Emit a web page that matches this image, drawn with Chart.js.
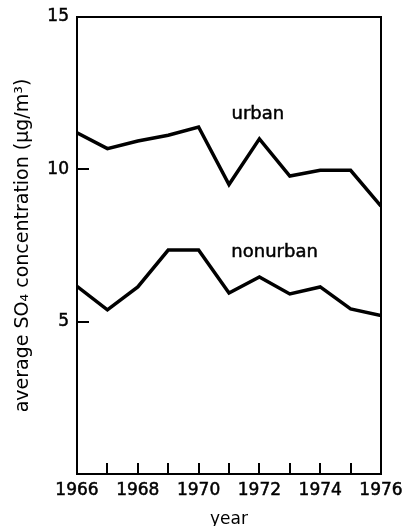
<!DOCTYPE html>
<html><head><meta charset="utf-8">
<script src="https://cdn.jsdelivr.net/npm/chart.js@4/dist/chart.umd.min.js"></script>
<style>html,body{margin:0;padding:0;background:#fff}canvas{display:block}</style>
</head><body>
<canvas id="c" width="404" height="526"></canvas>
<script>
const years = [1966,1967,1968,1969,1970,1971,1972,1973,1974,1975,1976];
const urban = [11.2,10.68,10.93,11.12,11.39,9.5,11.0,9.78,9.97,9.97,8.79];
const nonurban = [6.16,5.39,6.14,7.35,7.35,5.94,6.47,5.91,6.14,5.42,5.2];
const xTickLabels = [1966,1968,1970,1972,1974,1976];
const yTickLabels = [5,10,15];
const seriesNames = ['urban','nonurban'];

const FONT = 'DejaVu Sans';

const boxPlugin = {
  id: 'boxTicks',
  afterDatasetsDraw(chart) {
    const {ctx, chartArea: a, scales: {x, y}} = chart;
    ctx.save();
    ctx.strokeStyle = '#000';
    ctx.lineWidth = 2;
    ctx.beginPath();
    ctx.moveTo(a.left, a.top); ctx.lineTo(a.right, a.top); ctx.lineTo(a.right, a.bottom);
    ctx.stroke();
    // inward tick marks
    ctx.beginPath();
    x.ticks.forEach(t => {
      if (t.value <= x.min || t.value >= x.max) return;
      const px = Math.round(x.getPixelForValue(t.value));
      ctx.moveTo(px, a.bottom); ctx.lineTo(px, a.bottom - 11);
    });
    y.ticks.forEach(t => {
      if (t.value <= y.min || t.value >= y.max) return;
      const py = Math.round(y.getPixelForValue(t.value));
      ctx.moveTo(a.left, py); ctx.lineTo(a.left + 12, py);
    });
    ctx.stroke();
    // series labels
    ctx.fillStyle = '#000';
    ctx.font = '18px "' + FONT + '"';
    ctx.textAlign = 'center';
    ctx.textBaseline = 'middle';
    ctx.lineWidth = 0.5;
    [[seriesNames[0], 1971.95, 11.8], [seriesNames[1], 1972.5, 7.27]].forEach(([t, vx, vy]) => {
      const px = x.getPixelForValue(vx), py = y.getPixelForValue(vy);
      ctx.fillText(t, px, py);
      ctx.strokeText(t, px, py);
    });
    ctx.restore();
  }
};

new Chart(document.getElementById('c'), {
  type: 'line',
  data: {
    datasets: [
      { label: seriesNames[0], data: years.map((yr,i)=>({x:yr,y:urban[i]})) },
      { label: seriesNames[1], data: years.map((yr,i)=>({x:yr,y:nonurban[i]})) }
    ]
  },
  options: {
    responsive: false,
    animation: false,
    devicePixelRatio: 1,
    layout: { padding: { top: 17, right: 23, left: 0, bottom: 0 } },
    elements: {
      line: { borderColor: '#000', borderWidth: 3.5, tension: 0, fill: false },
      point: { radius: 0, hoverRadius: 0 }
    },
    plugins: { legend: { display: false }, tooltip: { enabled: false } },
    scales: {
      x: {
        type: 'linear', min: 1966, max: 1976,
        afterFit: s => { s.height = 52; s.paddingLeft = 0; s.paddingRight = 0; },
        grid: { display: false, drawTicks: false },
        border: { display: true, color: '#000', width: 2 },
        ticks: {
          stepSize: 1, autoSkip: false, maxRotation: 0, padding: 6,
          color: '#000', font: { family: FONT, size: 17 },
          textStrokeColor: '#000', textStrokeWidth: 0.5,
          callback: v => xTickLabels.includes(v) ? String(v) : ''
        },
        title: { display: true, text: 'year', color: '#000', font: { family: FONT, size: 17 }, padding: { top: 0, bottom: -4 } }
      },
      y: {
        min: 0, max: 15,
        afterFit: s => { s.width = 77; s.paddingTop = 0; s.paddingBottom = 0; },
        grid: { display: false, drawTicks: false },
        border: { display: true, color: '#000', width: 2 },
        ticks: {
          stepSize: 5, padding: 8,
          color: '#000', font: { family: FONT, size: 17 },
          textStrokeColor: '#000', textStrokeWidth: 0.5,
          callback: v => yTickLabels.includes(v) ? String(v) : ''
        },
        title: { display: true, text: 'average SO\u2084 concentration (\u03BCg/m\u00B3)', color: '#000', font: { family: FONT, size: 19 }, padding: { top: 12, bottom: 0 } }
      }
    }
  },
  plugins: [boxPlugin]
});
</script>
</body></html>
